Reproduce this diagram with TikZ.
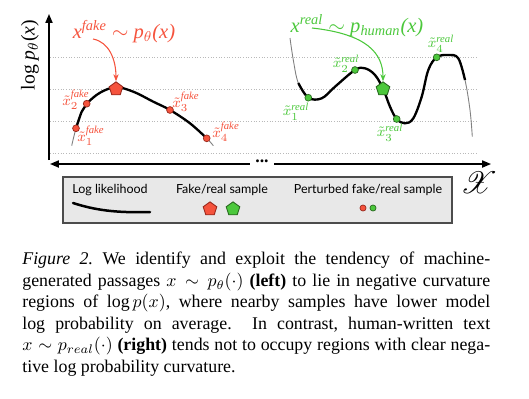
\documentclass[tikz,border=0pt]{standalone}
\usepackage{amsmath}
\usepackage{fontspec}
\setmainfont{Liberation Serif}
\newfontfamily\legfont{Lato}
\usepackage{mathrsfs}
\usetikzlibrary{shapes.geometric,arrows.meta}
\definecolor{fk}{HTML}{F5533D}
\definecolor{fkd}{HTML}{9A2A1E}
\definecolor{rl}{HTML}{4CC83C}
\definecolor{rld}{HTML}{2A6A20}
\definecolor{legbg}{HTML}{E8E8E8}
\begin{document}
\begin{tikzpicture}[x=0.56pt,y=-0.56pt,
  gridline/.style={gray!55, densely dotted, line width=0.5pt},
  axisline/.style={line width=0.8pt},
  tip/.style={-{Triangle[length=5pt,width=4pt]}},
  pent/.style={regular polygon, regular polygon sides=5, minimum size=8pt, inner sep=0pt, line width=0.5pt},
  fakep/.style={pent, fill=fk, draw=fkd},
  realp/.style={pent, fill=rl, draw=rld},
  dotpt/.style={circle, minimum size=3.8pt, inner sep=0pt, line width=0.4pt},
  fakept/.style={dotpt, fill=fk, draw=fkd},
  realpt/.style={dotpt, fill=rl, draw=rld},
  lab/.style={font=\fontsize{8}{9}\selectfont, inner sep=0pt},
  ttl/.style={font=\fontsize{11.5}{13}\selectfont\itshape, inner sep=0pt},
  thinc/.style={gray, line width=0.5pt},
  thickc/.style={black, line width=1.3pt},
  legtext/.style={font=\legfont\fontsize{7}{8}\selectfont, inner sep=0pt},
  conn/.style={line width=0.6pt, -{Stealth[length=4pt,width=3pt]}}
]
\useasboundingbox (0,0) rectangle (529,398);

% grid
\foreach \yy in {57,89,121,153} \draw[gridline] (50,\yy) -- (478,\yy);

% axes
\coordinate (yb) at (49,160);
\coordinate (yt) at (49,14);
\draw[axisline,tip] (yb) -- (yt);
\node[inner sep=0pt] (dots) at (262,161) {\textbf{...}};
\coordinate (xl) at (50,164);
\coordinate (xr) at (491,164);
\draw[axisline,tip] ([xshift=-3pt]dots.west |- xl) -- (xl);
\draw[axisline,tip] ([xshift=3pt]dots.east |- xr) -- (xr);

\node[rotate=90, inner sep=0pt] (ylab) at (30,55) {\fontsize{11}{12}\selectfont log \textit{p}$_\theta$(\textit{x})};
\node[inner sep=0pt] (calx) at (479,183) {\fontsize{18}{20}\selectfont$\mathscr{X}$};

% left curve
\draw[thinc] plot[smooth, tension=0.6] coordinates {(71.7,145.7) (76,128.3) (81.7,111.7) (86.7,103.7) (100,92.7) (116,87.3) (133.3,91.7) (153.3,101.7) (170,110) (190,123.3) (206.7,138.3) (213.3,145.7)};
\draw[thickc] plot[smooth, tension=0.6] coordinates {(76,128.3) (81.7,111.7) (86.7,103.7) (100,92.7) (116,87.3) (133.3,91.7) (153.3,101.7) (170,110) (190,123.3) (206.7,138.3)};

% right curve
\draw[thinc] plot[smooth, tension=0.6] coordinates {(290,38) (293.3,60) (298.3,83) (308.3,97.7) (321.7,98.3) (335,86.7) (355,70) (365,68.3) (375,75) (383.3,89.3) (390,106.7) (396.7,119) (405,123.3) (413.3,118.3) (421.7,96.7) (428.3,70) (436.7,57.3) (448.3,55) (458.3,58.3) (465,80) (470,110) (472.3,136.7)};
\draw[thickc] plot[smooth, tension=0.6] coordinates {(298.3,83) (308.3,97.7) (321.7,98.3) (335,86.7) (355,70) (365,68.3) (375,75) (383.3,89.3) (390,106.7) (396.7,119) (405,123.3) (413.3,118.3) (421.7,96.7) (428.3,70) (436.7,57.3) (448.3,55) (458.3,58.3) (465,80)};

% titles
\node[ttl, text=fk] (ftitle) at (124,32) {x$^{\textit{fake}}$ $\sim$ p$_\theta$(x)};
\node[ttl, text=rl] (rtitle) at (357,26) {x$^{\textit{real}}$ $\sim$ p$_{\textit{human}}$(x)};
\coordinate (fa) at (93,39);
\coordinate (ra) at (312,28);

% samples
\node[fakep] (fp) at (116,89) {};
\node[realp] (rp) at (383,89) {};
\draw[conn, fk] (fa) .. controls +(16,3) and +(0,-22) .. (fp.north);
\draw[conn, rl] (ra) .. controls +(55,6) and +(0,-28) .. (rp.north);

% perturbed
\node[fakept] (f1) at (76,128.3) {};
\node[fakept] (f2) at (86.7,103.7) {};
\node[fakept] (f3) at (170,110) {};
\node[fakept] (f4) at (206.7,138.3) {};
\node[realpt] (r1) at (308.3,97.7) {};
\node[realpt] (r2) at (355,70) {};
\node[realpt] (r3) at (396.7,119) {};
\node[realpt] (r4) at (436.7,57.3) {};

\node[lab, text=fk] (lf1) at (91,136) {$\tilde{x}^{\textit{fake}}_1$};
\node[lab, text=fk] (lf2) at (76,100) {$\tilde{x}^{\textit{fake}}_2$};
\node[lab, text=fk] (lf3) at (186,102) {$\tilde{x}^{\textit{fake}}_3$};
\node[lab, text=fk] (lf4) at (226,132) {$\tilde{x}^{\textit{fake}}_4$};
\node[lab, text=rl] (lr1) at (296,112) {$\tilde{x}^{\textit{real}}_1$};
\node[lab, text=rl] (lr2) at (346,64) {$\tilde{x}^{\textit{real}}_2$};
\node[lab, text=rl] (lr3) at (390,133) {$\tilde{x}^{\textit{real}}_3$};
\node[lab, text=rl] (lr4) at (441,44) {$\tilde{x}^{\textit{real}}_4$};

% legend
\draw[fill=legbg, draw=black!70, line width=0.6pt] (63,177) rectangle (452,223);
\node[legtext] (l1) at (110,190) {Log likelihood};
\node[legtext] (l2) at (222,190) {Fake/real sample};
\node[legtext] (l3) at (368,190) {Perturbed fake/real sample};
\draw[line width=1.4pt, line cap=round] (73,203) .. controls (95,210) and (115,213) .. (150,212);
\node[fakep] (lp1) at (210,209) {};
\node[realp] (lp2) at (233,209) {};
\node[fakept, minimum size=3.4pt] (ld1) at (363,208) {};
\node[realpt, minimum size=3.4pt] (ld2) at (373,208) {};

% caption
\node[anchor=north west, inner sep=0pt, text width=262pt, align=justify] (cap) at (22,252) {\fontsize{10}{12}\selectfont\frenchspacing
\textit{Figure 2.} We identify and exploit the tendency of machine-\linebreak
generated passages $x\sim p_\theta(\cdot)$ \textbf{(left)} to lie in negative curvature\linebreak
regions of $\log p(x)$, where nearby samples have lower model\linebreak
log probability on average.\ \ In contrast, human-written text\linebreak
$x\sim p_{real}(\cdot)$ \textbf{(right)} tends not to occupy regions with clear nega-\linebreak
tive log probability curvature.};
\end{tikzpicture}
\end{document}
